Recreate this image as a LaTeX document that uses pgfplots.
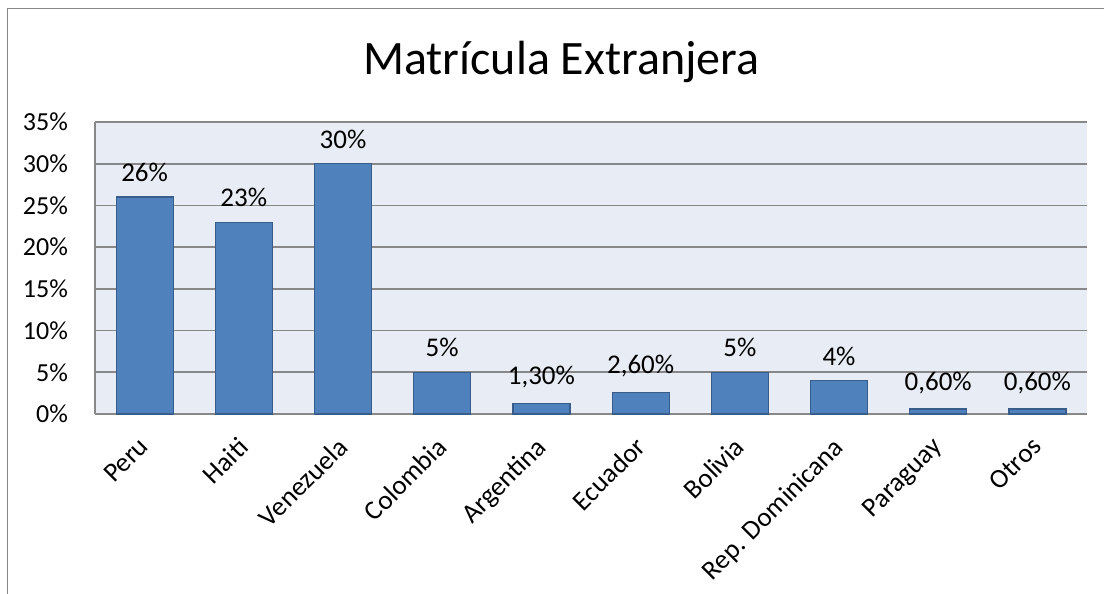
\documentclass[border=0pt]{standalone}
\usepackage{fontspec}
\setmainfont{Carlito}
\usepackage{pgfplots}
\usepackage{pgfplotstable}
\pgfplotsset{compat=1.18}
\definecolor{barfill}{HTML}{4F81BD}
\definecolor{baredge}{HTML}{385D8A}
\definecolor{plotbg}{HTML}{E8EDF5}
\definecolor{gridc}{HTML}{888888}
\definecolor{framec}{HTML}{878787}
\pgfplotstableread{
x y lab
0 26 26
1 23 23
2 30 30
3 5 5
4 1.3 1,30
5 2.6 2,60
6 5 5
7 4 4
8 0.6 0,60
9 0.6 0,60
}\datatable
\begin{document}
\begin{tikzpicture}
\path[use as bounding box] (0pt,0pt) rectangle (552pt,-297pt);
\draw[framec, line width=0.8pt] (3.7pt,-297pt) -- (3.7pt,-4.3pt) -- (552pt,-4.3pt);
\begin{axis}[
  at={(47.5pt,-207pt)}, anchor=south west,
  scale only axis, width=496pt, height=146pt,
  xmin=-0.5, xmax=9.5, ymin=0, ymax=35,
  ytick={0,5,10,15,20,25,30,35},
  yticklabel={\pgfmathprintnumber{\tick}\%},
  /pgf/number format/assume math mode=true,
  xtick={0,...,9},
  xticklabels={Peru,Haiti,Venezuela,Colombia,Argentina,Ecuador,Bolivia,Rep. Dominicana,Paraguay,Otros},
  xticklabel style={rotate=45, anchor=north east, font=\fontsize{13.5}{15}\selectfont, inner sep=1pt, xshift=-9pt, yshift=-4pt},
  yticklabel style={font=\fontsize{13}{15}\selectfont, xshift=-10pt},
  major tick length=0pt,
  ymajorgrids, grid style={gridc, line width=0.9pt},
  axis x line=bottom, axis y line=left,
  axis line style={-, gridc, line width=0.9pt},
  axis background/.style={fill=plotbg},
  ytick pos=left, xtick pos=bottom,
  title={Matrícula Extranjera},
  title style={at={(axis description cs:0.47,1)}, anchor=base, yshift=18pt, font=\fontsize{24}{28}\selectfont},
  clip=false,
]
\addplot[ybar, bar width=28.5pt, fill=barfill, draw=baredge, line width=0.6pt,
  point meta=explicit symbolic,
  nodes near coords={\pgfplotspointmeta\%},
  nodes near coords style={anchor=south, yshift=4pt, font=\fontsize{13.5}{15}\selectfont, text=black}]
  table[x=x, y=y, meta=lab] {\datatable};
\end{axis}
\end{tikzpicture}
\end{document}
